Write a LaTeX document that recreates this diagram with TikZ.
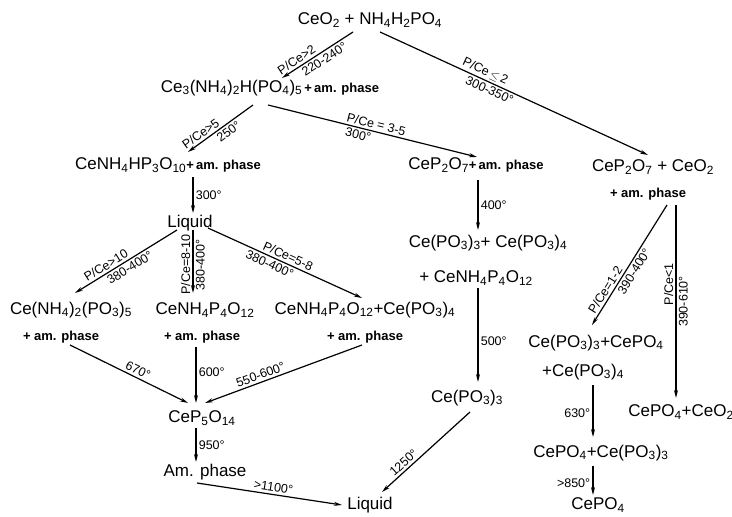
\documentclass[tikz,border=0pt]{standalone}
\usepackage{fontspec}
\setmainfont{Liberation Sans}
\usetikzlibrary{arrows.meta}

\newcommand{\sub}[1]{\textsubscript{#1}}
\newcommand{\am}{\bfseries\fontsize{13}{15}\selectfont}

\tikzset{
  chem/.style={font=\fontsize{17}{20}\selectfont, inner sep=1pt},
  amph/.style={font=\am, inner sep=1pt},
  lbl/.style={font=\fontsize{12.5}{14}\selectfont, inner sep=2.2pt},
  arr/.style={-{Stealth[length=8pt,width=4pt]}, line width=1.2pt},
}

\begin{document}
\begin{tikzpicture}[x=1pt, y=-1pt]
  \useasboundingbox (0,0) rectangle (732,517);

  % compounds
  \node[chem] (start) at (370,20) {CeO\sub2 + NH\sub4H\sub2PO\sub4};
  \node[chem] (trip) at (270,88) {Ce\sub3(NH\sub4)\sub2H(PO\sub4)\sub5{\am\,+\,am. phase}};
  \node[chem] (hp) at (168,165) {CeNH\sub4HP\sub3O\sub{10}{\am+\,am. phase}};
  \node[chem] (liq) at (190,223) {Liquid};
  \node[chem] (cep) at (476,165) {CeP\sub2O\sub7{\am+\,am. phase}};
  \node[chem] (cepceo) at (653,167) {CeP\sub2O\sub7 + CeO\sub2};
  \node[amph] (cepceoam) at (648,194) {+ am. phase};
  \node[chem] (mix1) at (488,243) {Ce(PO\sub3)\sub3+ Ce(PO\sub3)\sub4};
  \node[chem] (mix1b) at (476,278) {+ CeNH\sub4P\sub4O\sub{12}};
  \node[chem] (ceam) at (71,310) {Ce(NH\sub4)\sub2(PO\sub3)\sub5};
  \node[amph] (ceamam) at (61,337) {+ am. phase};
  \node[chem] (cenh) at (205,310) {CeNH\sub4P\sub4O\sub{12}};
  \node[amph] (cenham) at (202,337) {+ am. phase};
  \node[chem] (cenhce) at (365,310) {CeNH\sub4P\sub4O\sub{12}+Ce(PO\sub3)\sub4};
  \node[amph] (cenhceam) at (365,337) {+ am. phase};
  \node[chem] (cep5) at (202,418) {CeP\sub5O\sub{14}};
  \node[chem] (amph) at (205,472) {Am. phase};
  \node[chem] (liq2) at (370,505) {Liquid};
  \node[chem] (cepo3) at (467,398) {Ce(PO\sub3)\sub3};
  \node[chem] (mix2) at (596,343) {Ce(PO\sub3)\sub3+CePO\sub4};
  \node[chem] (mix2b) at (583,372) {+Ce(PO\sub3)\sub4};
  \node[chem] (cepceo2) at (681,412) {CePO\sub4+CeO\sub2};
  \node[chem] (cepcepo) at (601,453) {CePO\sub4+Ce(PO\sub3)\sub3};
  \node[chem] (cepo4) at (598,505) {CePO\sub4};

  % reactions
  \draw[arr] ([shift={(-17,12)}]start.center) -- ([shift={(12,-10)}]trip.center)
    node[lbl, pos=.74, sloped, above] {P/Ce>2}
    node[lbl, pos=.46, sloped, below] {220-240°};
  \draw[arr] ([shift={(10,12)}]start.center) -- ([shift={(-5,-12)}]cepceo.center)
    node[lbl, pos=.38, sloped, above] {P/Ce\,$\leq$\,2}
    node[lbl, pos=.42, sloped, below] {300-350°};
  \draw[arr] ([shift={(-17,17)}]trip.center) -- ([shift={(20,-13)}]hp.center)
    node[lbl, pos=.74, sloped, above] {P/Ce>5}
    node[lbl, pos=.44, sloped, below] {250°};
  \draw[arr] ([shift={(-2,17)}]trip.center) -- ([shift={(1,-8)}]cep.center)
    node[lbl, pos=.51, sloped, above] {P/Ce = 3-5}
    node[lbl, pos=.44, sloped, below] {300°};
  \draw[arr] ([shift={(25,12)}]hp.center) -- ([shift={(3,-10)}]liq.center)
    node[lbl, midway, right] {300°};
  \draw[arr] ([shift={(-13,7)}]liq.center) -- ([shift={(4,-17)}]ceam.center)
    node[lbl, pos=.66, sloped, above] {P/Ce>10}
    node[lbl, pos=.5, sloped, below] {380-400°};
  \draw[arr] ([shift={(3,7)}]liq.center) -- ([shift={(-12,-17)}]cenh.center)
    node[lbl, pos=.55, rotate=90, above] {P/Ce=8-10}
    node[lbl, pos=.55, rotate=90, below] {380-400°};
  \draw[arr] ([shift={(18,5)}]liq.center) -- ([shift={(-3,-12)}]cenhce.center)
    node[lbl, pos=.5, sloped, above] {P/Ce=5-8}
    node[lbl, pos=.42, sloped, below] {380-400°};
  \draw[arr] ([shift={(2,15)}]cep.center) -- ([shift={(-10,-13)}]mix1.center)
    node[lbl, midway, right] {400°};
  \draw[arr] ([shift={(2,10)}]mix1b.center) -- ([shift={(11,-16)}]cepo3.center)
    node[lbl, pos=.57, right] {500°};
  \draw[arr] ([shift={(19,11)}]cepceoam.center) -- ([shift={(-4,-18)}]mix2.center)
    node[lbl, pos=.74, sloped, above] {P/Ce=1-2}
    node[lbl, pos=.52, sloped, below] {390-400°};
  \draw[arr] ([shift={(28,11)}]cepceoam.center) -- ([shift={(-5,-14)}]cepceo2.center)
    node[lbl, pos=.41, rotate=90, above] {P/Ce<1}
    node[lbl, pos=.5, rotate=90, below] {390-610°};
  \draw[arr] ([shift={(10,13)}]mix2b.center) -- ([shift={(-8,-16)}]cepcepo.center)
    node[lbl, pos=.54, left] {630°};
  \draw[arr] ([shift={(-8,13)}]cepcepo.center) -- ([shift={(-5,-10)}]cepo4.center)
    node[lbl, pos=.6, left] {>850°};
  \draw[arr] ([shift={(9,8)}]ceamam.center) -- ([shift={(-14,-15)}]cep5.center)
    node[lbl, pos=.55, sloped, above] {670°};
  \draw[arr] ([shift={(-6,10)}]cenham.center) -- ([shift={(-6,-15)}]cep5.center)
    node[lbl, pos=.45, right] {600°};
  \draw[arr] ([shift={(-3,8)}]cenhceam.center) -- ([shift={(3,-15)}]cep5.center)
    node[lbl, pos=.63, sloped, above] {550-600°};
  \draw[arr] ([shift={(-6,10)}]cep5.center) -- ([shift={(-9,-10)}]amph.center)
    node[lbl, midway, right] {950°};
  \draw[arr] ([shift={(-8,11)}]amph.center) -- ([shift={(-28,0)}]liq2.center)
    node[lbl, pos=.52, sloped, above] {>1100°};
  \draw[arr] ([shift={(3,14)}]cepo3.center) -- ([shift={(12,-13)}]liq2.center)
    node[lbl, pos=.7, sloped, above] {1250°};
\end{tikzpicture}
\end{document}
